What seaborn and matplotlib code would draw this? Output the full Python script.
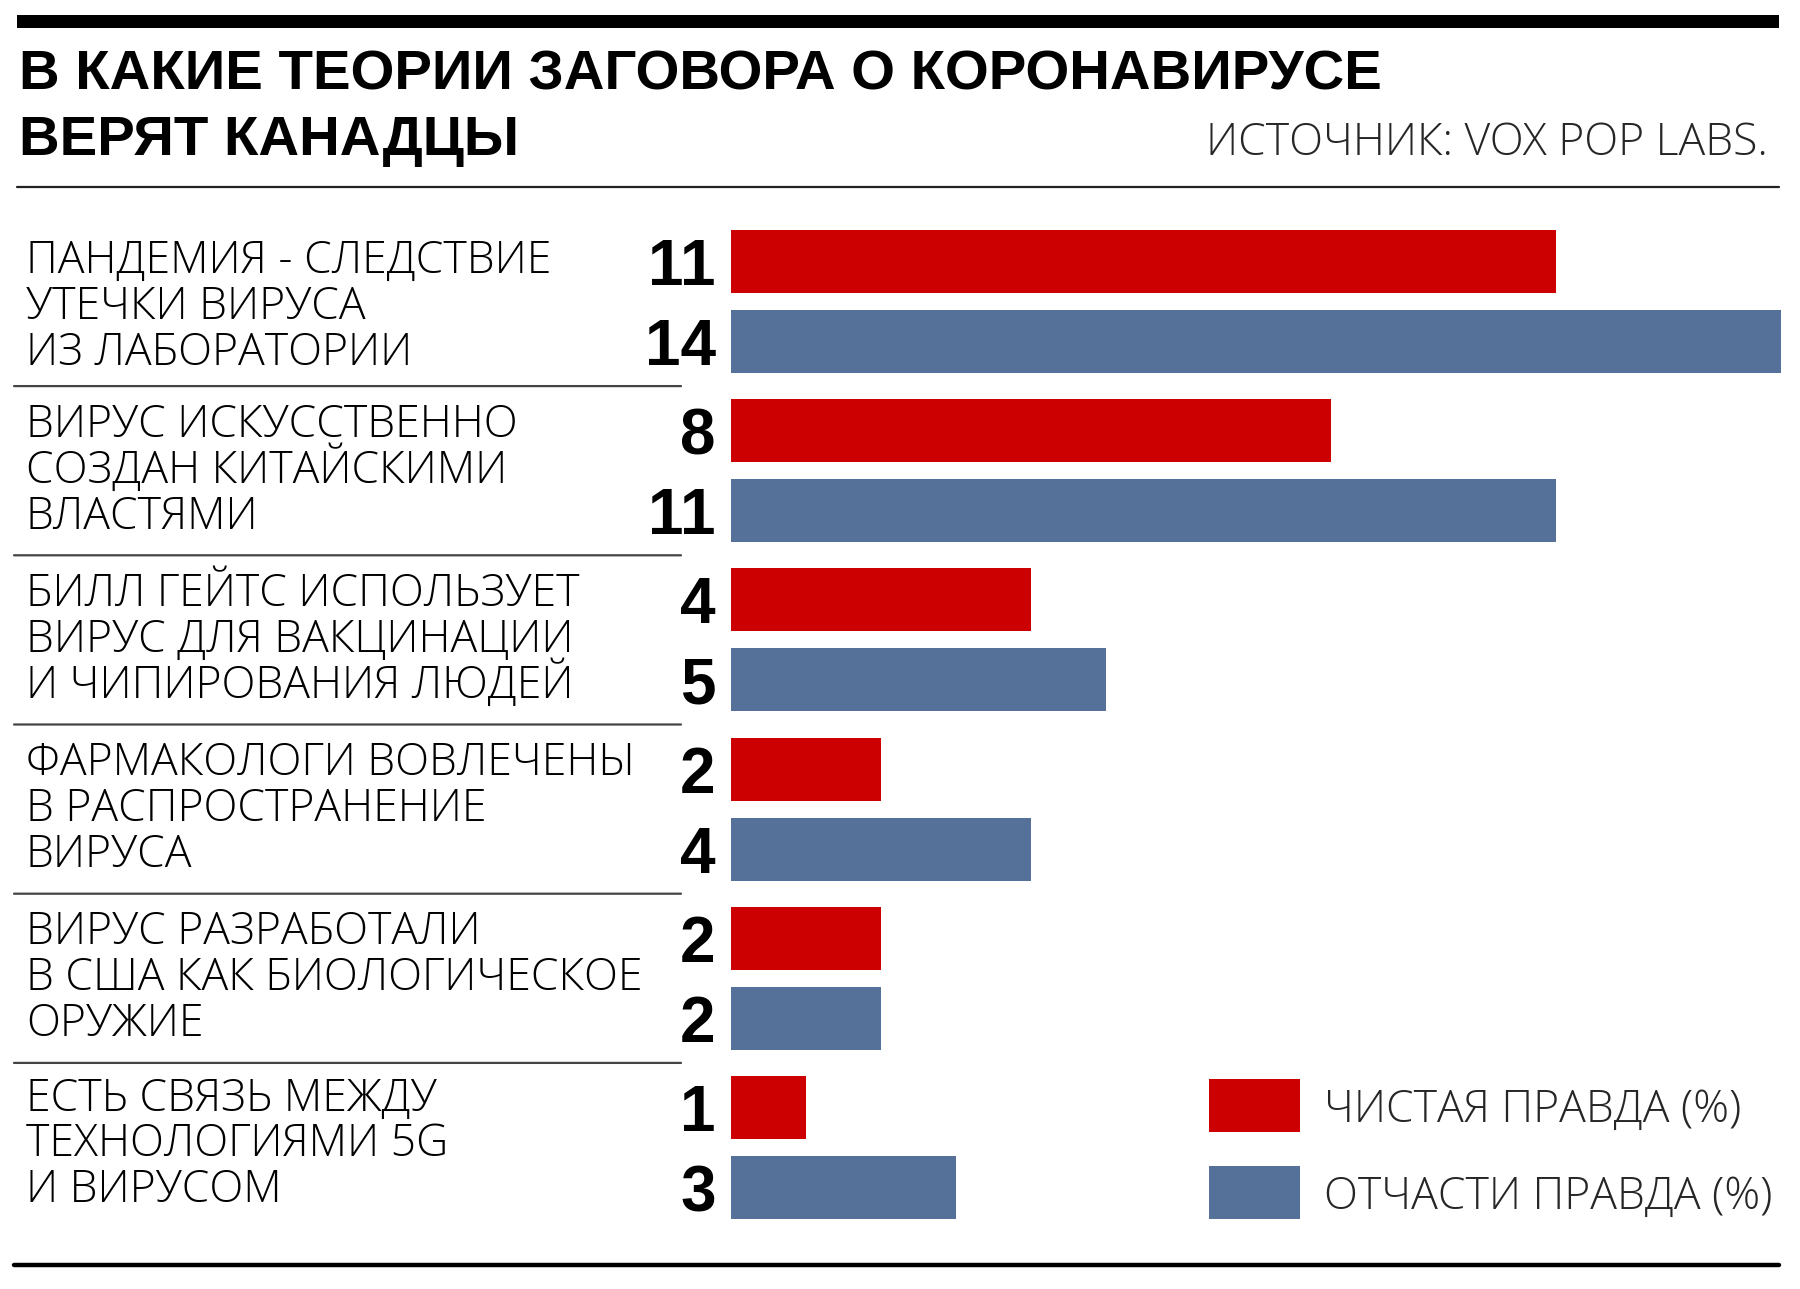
import matplotlib
matplotlib.use("Agg")
import matplotlib.pyplot as plt
from matplotlib.patches import Rectangle
from matplotlib.lines import Line2D
from matplotlib import font_manager
import seaborn as sns
import pandas as pd

# ---- data ----
theories = [
    "ПАНДЕМИЯ - СЛЕДСТВИЕ\nУТЕЧКИ ВИРУСА\nИЗ ЛАБОРАТОРИИ",
    "ВИРУС ИСКУССТВЕННО\nСОЗДАН КИТАЙСКИМИ\nВЛАСТЯМИ",
    "БИЛЛ ГЕЙТС ИСПОЛЬЗУЕТ\nВИРУС ДЛЯ ВАКЦИНАЦИИ\nИ ЧИПИРОВАНИЯ ЛЮДЕЙ",
    "ФАРМАКОЛОГИ ВОВЛЕЧЕНЫ\nВ РАСПРОСТРАНЕНИЕ\nВИРУСА",
    "ВИРУС РАЗРАБОТАЛИ\nВ США КАК БИОЛОГИЧЕСКОЕ\nОРУЖИЕ",
    "ЕСТЬ СВЯЗЬ МЕЖДУ\nТЕХНОЛОГИЯМИ 5G\nИ ВИРУСОМ",
]
pure_truth = [11, 8, 4, 2, 2, 1]
partly_truth = [14, 11, 5, 4, 2, 3]
series_names = ["ЧИСТАЯ ПРАВДА (%)", "ОТЧАСТИ ПРАВДА (%)"]
title_lines = ["В КАКИЕ ТЕОРИИ ЗАГОВОРА О КОРОНАВИРУСЕ", "ВЕРЯТ КАНАДЦЫ"]
source = "ИСТОЧНИК: VOX POP LABS."

RED = "#CC0000"
BLUE = "#557099"

df = pd.DataFrame({
    "theory": theories * 2,
    "series": [series_names[0]] * len(theories) + [series_names[1]] * len(theories),
    "value": pure_truth + partly_truth,
})

sns.set_theme(style="white")
plt.rcParams["font.family"] = ["Liberation Sans", "DejaVu Sans"]

# pick a light sans for the body text
avail = {}
for f in font_manager.fontManager.ttflist:
    avail.setdefault(f.name, set()).add(f.weight if isinstance(f.weight, int) else 400)
LIGHT_FAMILY, LIGHT_WEIGHT = "DejaVu Sans", "normal"
for name in ["Open Sans Light", "Open Sans", "Roboto Light", "Roboto", "Lato Light", "Lato"]:
    if name in avail:
        ws = avail[name]
        if any(w <= 300 for w in ws if isinstance(w, int)) or "Light" in name:
            LIGHT_FAMILY, LIGHT_WEIGHT = name, 300
            break
LABEL_F = [LIGHT_FAMILY, "DejaVu Sans"]
BODY_SIZE = 32

W, H = 1800, 1289
fig = plt.figure(figsize=(W / 100, H / 100), dpi=100)
fig.patch.set_facecolor("white")

def fx(x):
    return x / W

def fy(y):
    return 1 - y / H

# axes for bars
ax = fig.add_axes([fx(731), fy(1232.1), (1781 - 731) / W, (1232.1 - 216.9) / H])
sns.barplot(data=df, y="theory", x="value", hue="series", orient="h",
            palette=[RED, BLUE], saturation=1, width=0.946, gap=0.2125,
            dodge=True, legend=False, linewidth=0, ax=ax)
ax.set_xlim(0, 14)
ax.set_ylim(len(theories) - 0.5, -0.5)
ax.axis("off")

BOLD_F = ["Liberation Sans", "DejaVu Sans"]

# value labels
for cont in ax.containers:
    for bar in cont:
        val = bar.get_width()
        yc = bar.get_y() + bar.get_height() / 2
        ax.annotate(f"{int(val)}", xy=(0, yc), xycoords="data",
                    xytext=(-11, -17), textcoords="offset points",
                    ha="right", va="baseline", fontsize=46, fontweight="bold",
                    family=BOLD_F, color="black")

# category labels
offsets = [-34, 12, 58]
group_nudge = [5, 0, 0, 0, 0, -3]
for i, lab in enumerate(theories):
    for k, line in enumerate(lab.split("\n")):
        ax.annotate(line, xy=(fx(26), i), xycoords=("figure fraction", "data"),
                    xytext=(0, -(offsets[k] + group_nudge[i]) * 0.72),
                    textcoords="offset points",
                    ha="left", va="baseline", fontsize=BODY_SIZE, family=LABEL_F,
                    fontweight=LIGHT_WEIGHT, color="black")

# separators between groups
for i in range(len(theories) - 1):
    ax.annotate("", xy=(fx(681), i + 0.5), xytext=(fx(14), i + 0.5),
                xycoords=("figure fraction", "data"),
                textcoords=("figure fraction", "data"),
                arrowprops=dict(arrowstyle="-", color="#444444", lw=1.6,
                                shrinkA=0, shrinkB=0))

# rules
fig.add_artist(Rectangle((fx(17), fy(28)), (1779 - 17) / W, 13 / H,
                         transform=fig.transFigure, color="black", lw=0))
fig.add_artist(Line2D([fx(17), fx(1779)], [fy(187), fy(187)],
                      transform=fig.transFigure, color="#222222", lw=1.6))
fig.add_artist(Line2D([fx(14), fx(1779)], [fy(1265), fy(1265)],
                      transform=fig.transFigure, color="black", lw=3.2))

# title
for txt, base in zip(title_lines, [90, 155]):
    fig.text(fx(19), fy(base), txt, ha="left", va="baseline",
             fontsize=40.6, fontweight="bold", family=BOLD_F, color="black")
fig.text(fx(1768), fy(155), source, ha="right", va="baseline",
         fontsize=BODY_SIZE, family=LABEL_F, fontweight=LIGHT_WEIGHT)

# legend
leg_y = [1079, 1166]
for (yy, col, name) in zip(leg_y, [RED, BLUE], series_names):
    fig.add_artist(Rectangle((fx(1209), fy(yy + 53)), 91 / W, 53 / H,
                             transform=fig.transFigure, color=col, lw=0))
    fig.text(fx(1324), fy(yy + 43), name, ha="left", va="baseline",
             fontsize=BODY_SIZE, family=LABEL_F, fontweight=LIGHT_WEIGHT)

fig.savefig("out.png", dpi=100, facecolor="white")
